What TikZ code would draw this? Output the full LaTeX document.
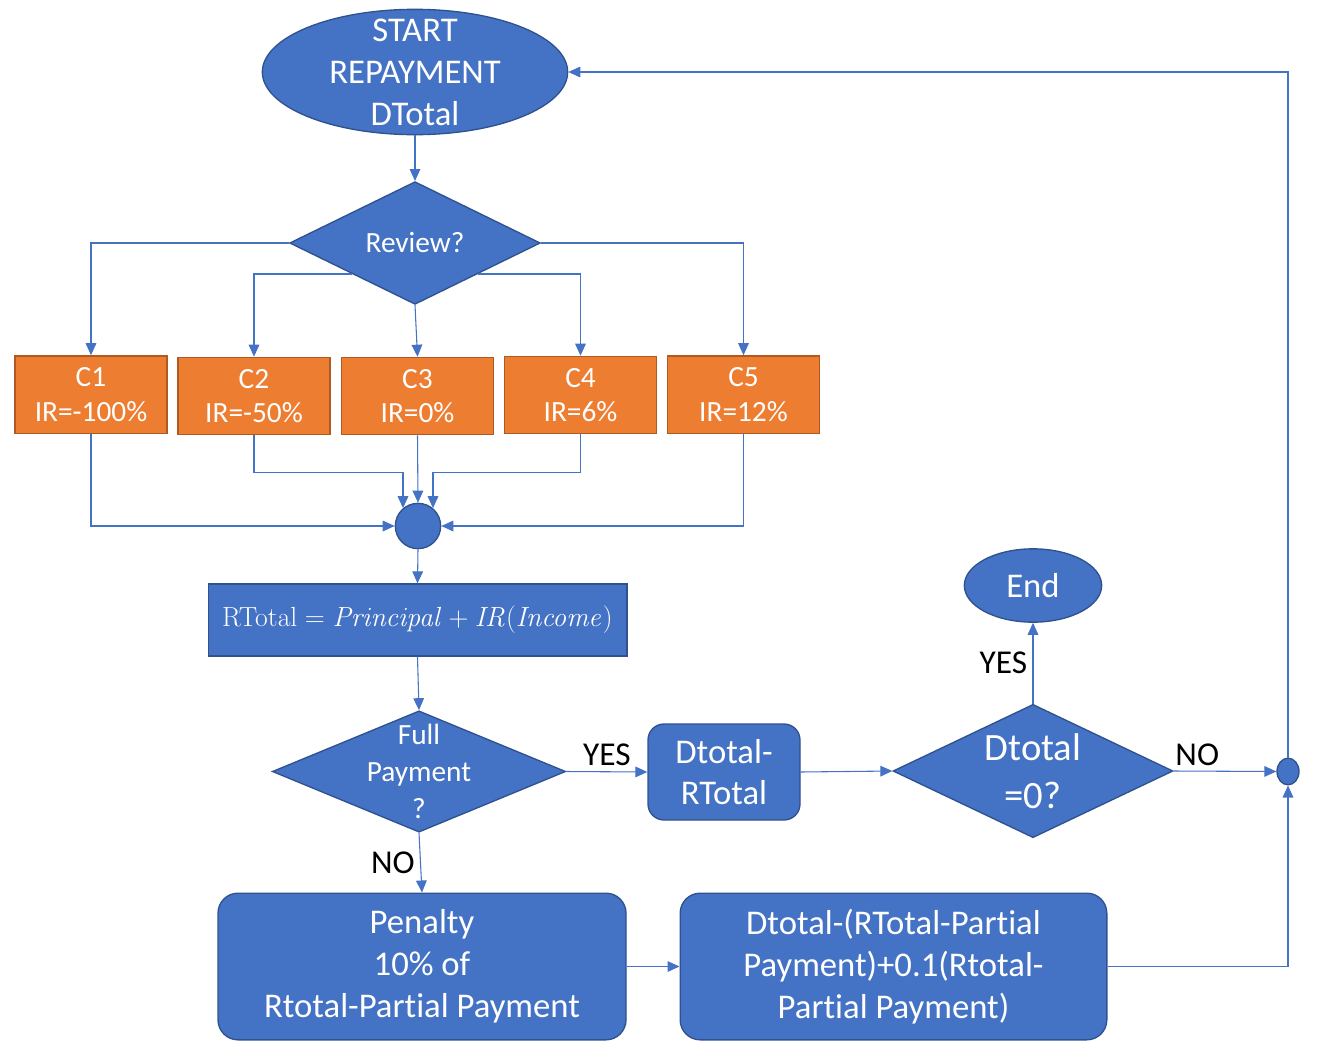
\documentclass[tikz,border=0pt]{standalone}
\usepackage[no-math]{fontspec}
\setmainfont[Ligatures=NoCommon]{Carlito}
\usepackage{xcolor}
\usepackage{tikz}
\usetikzlibrary{shapes.geometric}
\usetikzlibrary{arrows.meta}

\definecolor{flowblue}{HTML}{4472C4}
\definecolor{flowedge}{HTML}{2F528F}
\definecolor{caseorange}{HTML}{ED7D31}
\definecolor{caseedge}{HTML}{AE5A21}

\begin{document}
\begin{tikzpicture}[x=0.75pt, y=-0.75pt,
    flow/.style={draw=flowblue, line width=0.8pt, -{Triangle[length=9pt, width=8pt]}},
    bluefill/.style={fill=flowblue, draw=flowedge, line width=1pt, text=white, inner sep=0pt, align=center},
    inside/.style={text=white, align=center, inner sep=0pt},
    terminal/.style={bluefill, ellipse},
    decision/.style={bluefill, diamond},
    process/.style={bluefill, rectangle, rounded corners=12pt},
    casebox/.style={fill=caseorange, draw=caseedge, line width=1pt, text=white, inner sep=0pt,
        minimum width=114pt, minimum height=58pt, align=center, font=\fontsize{22}{26}\selectfont},
    tag/.style={font=\fontsize{25}{28}\selectfont, inner sep=4pt}
]
    \useasboundingbox (0,0) rectangle (1322,1057);

    % Start
    \node[terminal, minimum width=229pt, minimum height=94pt,
        label={[inside, font=\fontsize{26}{31.5}\selectfont]center:{START\\REPAYMENT\\DTotal}}]
        (start) at (415,72) {};

    % Review and the five cases
    \node[decision, minimum width=188pt, minimum height=92pt,
        label={[inside, font=\fontsize{22}{26}\selectfont]center:{Review?}}]
        (review) at (415,243) {};
    \node[casebox] (c1) at (91,394.5) {C1\\IR=-100\%};
    \node[casebox] (c2) at (254,396) {C2\\IR=-50\%};
    \node[casebox] (c3) at (417.5,396) {C3\\IR=0\%};
    \node[casebox] (c4) at (580.5,395) {C4\\IR=6\%};
    \node[casebox] (c5) at (743.5,394.5) {C5\\IR=12\%};
    \node[bluefill, circle, minimum size=34pt] (hub) at (418,526) {};

    \draw[flow] (start.south) -- (review.north);
    \draw[flow] (review.west) -| (c1.north);
    \draw[flow] (review.south west) -| (c2.north);
    \draw[flow] (review.south) -- (c3.north);
    \draw[flow] (review.south east) -| (c4.north);
    \draw[flow] (review.east) -| (c5.north);

    \draw[flow] (c1.south) |- (hub.west);
    \draw[flow] (c2.south) -- ++(0,37) -| (hub.130);
    \draw[flow] (c3.south) -- (hub.north);
    \draw[flow] (c4.south) -- ++(0,38) -| (hub.50);
    \draw[flow] (c5.south) |- (hub.east);

    % Repayment total
    \node[bluefill, rectangle, minimum width=314pt, minimum height=54pt, font=\fontsize{21.5}{24}\selectfont]
        (rtotal) at (417.5,620) {$\mathrm{RTotal} = \mathit{Principal} + \mathit{IR}(\mathit{Income})$};
    \draw[flow] (hub.south) -- (rtotal.north);

    % Full payment check
    \node[decision, minimum width=220pt, minimum height=91pt,
        label={[inside, font=\fontsize{22}{27.5}\selectfont]center:{Full\\Payment\\?}}]
        (fullpay) at (419,771.5) {};
    \draw[flow] (rtotal.south) -- (fullpay.north);

    \node[process, minimum width=114pt, minimum height=72pt, font=\fontsize{26}{31}\selectfont]
        (dminus) at (724,772) {Dtotal-\\RTotal};
    \draw[flow] (fullpay.east) -- node[tag, above] {YES} (dminus.west);

    \node[decision, minimum width=210pt, minimum height=100pt,
        label={[inside, font=\fontsize{29}{36}\selectfont]center:{Dtotal\\=0?}}]
        (dzero) at (1033,771) {};
    \draw[flow] (dminus.east) -- (dzero.west);

    \node[terminal, minimum width=103pt, minimum height=55pt, font=\fontsize{26}{30}\selectfont]
        (end) at (1033,585.5) {End};
    \draw[flow] (dzero.north) -- node[tag, left] {YES} (end.south);

    \node[bluefill, ellipse, minimum width=16.5pt, minimum height=20pt] (merge) at (1288,771.5) {};
    \draw[flow] (dzero.east) -- node[tag, pos=0.23, above] {NO} (merge.west);
    \draw[flow] (merge.north) |- (start.east);

    % Partial payment
    \node[process, rounded corners=15pt, minimum width=306pt, minimum height=110pt, font=\fontsize{26}{31.5}\selectfont]
        (penalty) at (422,966.5) {Penalty\\10\% of\\Rtotal-Partial Payment};
    \draw[flow] (fullpay.south) -- node[tag, left] {NO} (penalty.north);

    \node[process, rounded corners=15pt, minimum width=320pt, minimum height=110pt, font=\fontsize{26}{31.5}\selectfont]
        (update) at (893.5,966.5) {Dtotal-(RTotal-Partial\\Payment)+0.1(Rtotal-\\Partial Payment)};
    \draw[flow] (penalty.east) -- (update.west);
    \draw[flow] (update.east) -| (merge.south);
\end{tikzpicture}
\end{document}
